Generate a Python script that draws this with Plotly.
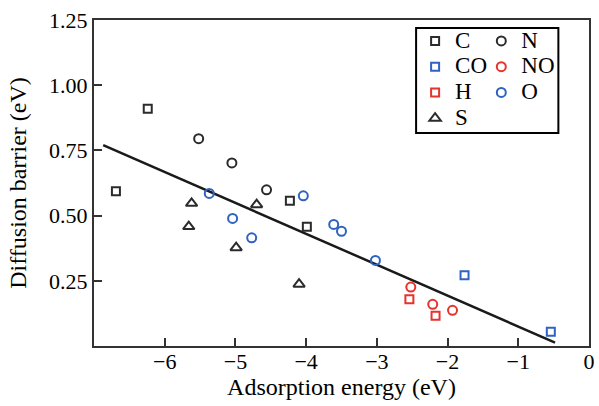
import plotly.graph_objects as go

# Adsorption energy (eV) vs diffusion barrier (eV) for each adsorbate
c_x = [-6.69, -6.24, -4.23, -3.99]
c_y = [0.593, 0.910, 0.557, 0.457]
co_x = [-1.76, -0.54]
co_y = [0.271, 0.055]
h_x = [-2.54, -2.17]
h_y = [0.179, 0.116]
s_x = [-5.66, -5.62, -4.99, -4.70, -4.10]
s_y = [0.458, 0.547, 0.377, 0.542, 0.237]
n_x = [-5.52, -5.05, -4.56]
n_y = [0.795, 0.702, 0.599]
no_x = [-2.52, -2.21, -1.93]
no_y = [0.226, 0.160, 0.137]
o_x = [-5.37, -5.04, -4.77, -4.04, -3.61, -3.50, -3.02]
o_y = [0.585, 0.489, 0.415, 0.576, 0.466, 0.440, 0.328]

# Linear fit end points
fit_x = [-6.87, -0.48]
fit_y = [0.770, 0.013]

x_ticks = [-6, -5, -4, -3, -2, -1, 0]
x_ticktext = ["\u22126", "\u22125", "\u22124", "\u22123", "\u22122", "\u22121", "0"]
y_ticks = [0.25, 0.50, 0.75, 1.00, 1.25]

BLACK = "#2b2b2b"
BLUE = "#2f62c2"
RED = "#e8322c"
FONT = "Liberation Serif"

fig = go.Figure()

fig.add_trace(go.Scatter(x=fit_x, y=fit_y, mode="lines",
                         line=dict(color="#1a1a1a", width=2.5),
                         showlegend=False, hoverinfo="skip"))

series = [
    ("C", c_x, c_y, "square-open", BLACK, 8, "legend"),
    ("CO", co_x, co_y, "square-open", BLUE, 8, "legend"),
    ("H", h_x, h_y, "square-open", RED, 8, "legend"),
    ("S", s_x, s_y, "triangle-up-open", BLACK, 10, "legend"),
    ("N", n_x, n_y, "circle-open", BLACK, 9, "legend2"),
    ("NO", no_x, no_y, "circle-open", RED, 9, "legend2"),
    ("O", o_x, o_y, "circle-open", BLUE, 9, "legend2"),
]
for name, xs, ys, sym, col, size, leg in series:
    fig.add_trace(go.Scatter(
        x=xs, y=ys, mode="markers", legend=leg,
        # larger label glyphs on a tighter legend row pitch
        name='<span style="font-size:23px">%s</span>' % name,
        marker=dict(symbol=sym, color=col, size=size, line=dict(width=2, color=col)),
    ))

L, R, T, B = 94, 4, 20, 60
W, H = 599, 406
pw, ph = W - L - R, H - T - B


def px_x(p):
    return (p - L) / pw


def px_y(p):
    return (H - B - p) / ph


legend_font = dict(family=FONT, size=17.5, color="black")
fig.update_layout(
    width=W, height=H,
    margin=dict(l=L, r=R, t=T, b=B),
    paper_bgcolor="white", plot_bgcolor="white",
    font=dict(family=FONT, size=22, color="black"),
    legend=dict(x=px_x(419), y=px_y(23), xanchor="left", yanchor="top",
                bgcolor="rgba(0,0,0,0)", font=legend_font, itemwidth=30),
    legend2=dict(x=px_x(486), y=px_y(23), xanchor="left", yanchor="top",
                 bgcolor="rgba(0,0,0,0)", font=legend_font, itemwidth=30),
    shapes=[dict(type="rect", xref="paper", yref="paper",
                 x0=px_x(420), x1=px_x(564), y0=px_y(133), y1=px_y(28),
                 line=dict(color="black", width=2), fillcolor="rgba(0,0,0,0)")],
)

axis_common = dict(
    showgrid=False, zeroline=False,
    showline=True, mirror=True, linecolor="#333333", linewidth=2,
    ticks="inside", ticklen=8, tickwidth=2, tickcolor="#333333",
    tickfont=dict(family=FONT, size=22, color="black"),
)
fig.update_xaxes(range=[-7, 0], tickvals=x_ticks, ticktext=x_ticktext,
                 ticklabelstandoff=-5,
                 title=dict(text="Adsorption energy (eV)", font=dict(family=FONT, size=24), standoff=3),
                 **axis_common)
fig.update_yaxes(range=[0, 1.25], tickvals=y_ticks, tickformat=".2f",
                 title=dict(text="Diffusion barrier (eV)", font=dict(family=FONT, size=24), standoff=16),
                 **axis_common)

fig.write_html("out.html")
